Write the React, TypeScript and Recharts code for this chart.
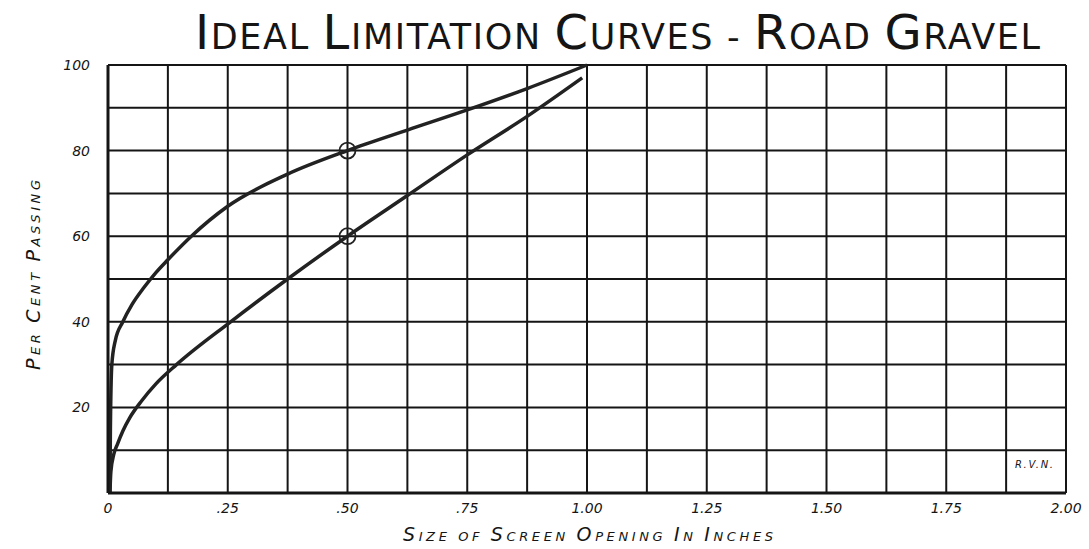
import React from "react";
import { LineChart, Line, XAxis, YAxis, CartesianGrid, ReferenceDot } from "recharts";

const upperCurve = [
  { x: 0.004, y: 0 }, { x: 0.005, y: 15 }, { x: 0.008, y: 30 }, { x: 0.015, y: 35.5 },
  { x: 0.031, y: 40 }, { x: 0.05, y: 44 }, { x: 0.075, y: 48 }, { x: 0.1, y: 51.5 },
  { x: 0.125, y: 54.5 }, { x: 0.174, y: 60 }, { x: 0.25, y: 67 }, { x: 0.375, y: 74.5 },
  { x: 0.5, y: 80 }, { x: 0.625, y: 84.8 }, { x: 0.75, y: 89.5 }, { x: 0.875, y: 94.5 },
  { x: 1.0, y: 100 },
];

const lowerCurve = [
  { x: 0.004, y: 0 }, { x: 0.006, y: 5 }, { x: 0.012, y: 9 }, { x: 0.02, y: 11.5 },
  { x: 0.031, y: 14.5 }, { x: 0.045, y: 17.5 }, { x: 0.07, y: 21.5 }, { x: 0.1, y: 25.5 },
  { x: 0.143, y: 30 }, { x: 0.256, y: 40 }, { x: 0.375, y: 50 }, { x: 0.5, y: 60 },
  { x: 0.625, y: 69.5 }, { x: 0.75, y: 79 }, { x: 0.875, y: 88 }, { x: 0.99, y: 97 },
];

const markedPoints = [
  { x: 0.5, y: 80 },
  { x: 0.5, y: 60 },
];

const xGridTicks = [0, 0.125, 0.25, 0.375, 0.5, 0.625, 0.75, 0.875, 1, 1.125, 1.25, 1.375, 1.5, 1.625, 1.75, 1.875, 2];
const xLabelValues = [0, 0.25, 0.5, 0.75, 1, 1.25, 1.5, 1.75, 2];
const xLabelTexts = ["0", ".25", ".50", ".75", "1.00", "1.25", "1.50", "1.75", "2.00"];

const yGridTicks = [0, 10, 20, 30, 40, 50, 60, 70, 80, 90, 100];
const yLabelValues = [20, 40, 60, 80, 100];
const yLabelTexts = ["20", "40", "60", "80", "100"];

const INK = "#151515";
const FONT = "'DejaVu Sans', sans-serif";

const xFmt = (v: number) => {
  const i = xLabelValues.findIndex((t) => Math.abs(t - v) < 1e-6);
  return i >= 0 ? xLabelTexts[i] : "";
};
const yFmt = (v: number) => {
  const i = yLabelValues.findIndex((t) => Math.abs(t - v) < 1e-6);
  return i >= 0 ? yLabelTexts[i] : "";
};

const tickStyle = { fontSize: 14, fontStyle: "italic", fill: INK, fontFamily: FONT };

export default function App() {
  return (
    <div style={{ position: "absolute", left: 0, top: 0, width: 1089, height: 549, background: "#fff" }}>
      <LineChart
        width={1089}
        height={549}
        margin={{ top: 65, right: 23, bottom: 26, left: 48 }}
      >
        <CartesianGrid stroke={INK} strokeWidth={2} />
        <XAxis
          type="number"
          dataKey="x"
          domain={[0, 2]}
          ticks={xGridTicks}
          tickFormatter={xFmt}
          interval={0}
          tickLine={false}
          axisLine={{ stroke: INK, strokeWidth: 3 }}
          tick={tickStyle}
          tickMargin={4}
          height={30}
          allowDataOverflow
        />
        <YAxis
          type="number"
          dataKey="y"
          domain={[0, 100]}
          ticks={yGridTicks}
          tickFormatter={yFmt}
          interval={0}
          tickLine={false}
          axisLine={{ stroke: INK, strokeWidth: 3 }}
          tick={tickStyle}
          tickMargin={12}
          width={60}
        />
        <Line
          data={upperCurve}
          dataKey="y"
          type="monotone"
          stroke="#222"
          strokeWidth={3.5}
          dot={false}
          isAnimationActive={false}
        />
        <Line
          data={lowerCurve}
          dataKey="y"
          type="monotone"
          stroke="#222"
          strokeWidth={3.5}
          dot={false}
          isAnimationActive={false}
        />
        {markedPoints.map((p, i) => (
          <ReferenceDot key={i} x={p.x} y={p.y} r={8} fill="none" stroke="#222" strokeWidth={1.8} />
        ))}
      </LineChart>
      <svg
        width={1089}
        height={549}
        style={{ position: "absolute", left: 0, top: 0, pointerEvents: "none" }}
      >
        <text x={195} y={49} textLength={845} fill={INK} fontFamily={FONT} fontWeight={400}>
          <tspan fontSize={48}>I</tspan>
          <tspan fontSize={35}>DEAL </tspan>
          <tspan fontSize={48}>L</tspan>
          <tspan fontSize={35}>IMITATION </tspan>
          <tspan fontSize={48}>C</tspan>
          <tspan fontSize={35}>URVES - </tspan>
          <tspan fontSize={48}>R</tspan>
          <tspan fontSize={35}>OAD </tspan>
          <tspan fontSize={48}>G</tspan>
          <tspan fontSize={35}>RAVEL</tspan>
        </text>
        <text transform="translate(40,370) rotate(-90)" textLength={190} fill={INK} fontFamily={FONT} fontStyle="italic">
          <tspan fontSize={19}>P</tspan>
          <tspan fontSize={13}>ER </tspan>
          <tspan fontSize={19}>C</tspan>
          <tspan fontSize={13}>ENT </tspan>
          <tspan fontSize={19}>P</tspan>
          <tspan fontSize={13}>ASSING</tspan>
        </text>
        <text x={403} y={541} textLength={370} fill={INK} fontFamily={FONT} fontStyle="italic">
          <tspan fontSize={19}>S</tspan>
          <tspan fontSize={13}>IZE OF </tspan>
          <tspan fontSize={19}>S</tspan>
          <tspan fontSize={13}>CREEN </tspan>
          <tspan fontSize={19}>O</tspan>
          <tspan fontSize={13}>PENING </tspan>
          <tspan fontSize={19}>I</tspan>
          <tspan fontSize={13}>N </tspan>
          <tspan fontSize={19}>I</tspan>
          <tspan fontSize={13}>NCHES</tspan>
        </text>
        <text x={1015} y={468} textLength={38} fontSize={10} fill={INK} fontFamily={FONT} fontStyle="italic">
          R.V.N.
        </text>
      </svg>
    </div>
  );
}
